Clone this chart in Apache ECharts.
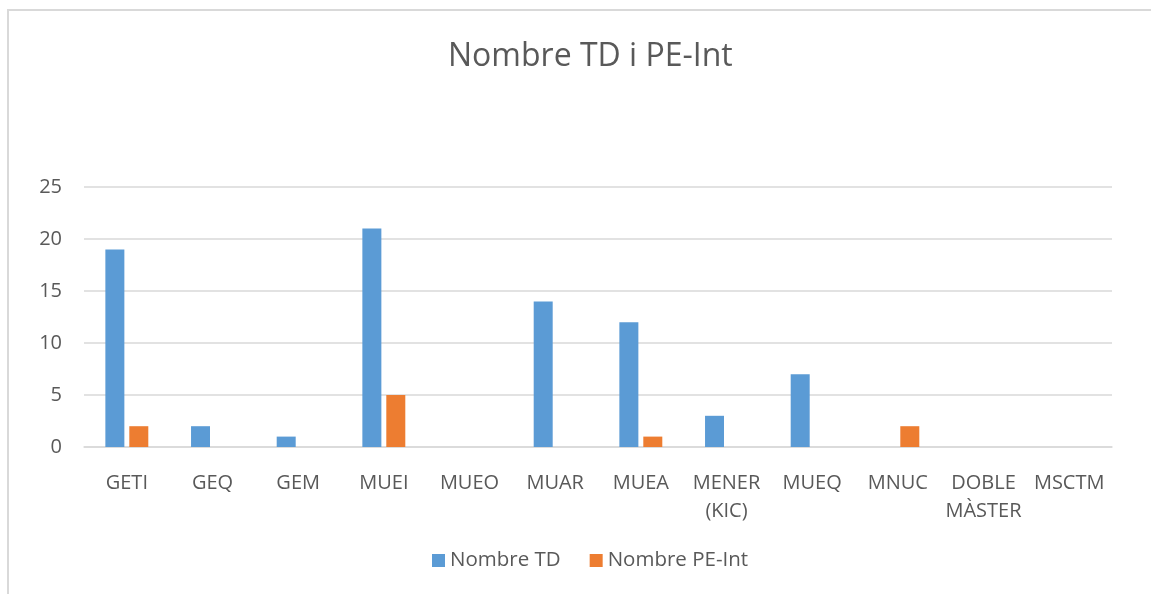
<!DOCTYPE html>
<html>
<head>
<meta charset="utf-8">
<script src="https://cdn.jsdelivr.net/npm/echarts@6/dist/echarts.min.js"></script>
<style>
  html, body { margin: 0; padding: 0; background: #fff; }
  #chart { width: 1151px; height: 594px; }
</style>
</head>
<body>
<div id="chart"></div>
<script>
const categories = ['GETI', 'GEQ', 'GEM', 'MUEI', 'MUEO', 'MUAR', 'MUEA', 'MENER\n(KIC)', 'MUEQ', 'MNUC', 'DOBLE\nMÀSTER', 'MSCTM'];
const nombreTD = [19, 2, 1, 21, 0, 14, 12, 3, 7, 0, 0, 0];
const nombrePEInt = [2, 0, 0, 5, 0, 0, 1, 0, 0, 2, 0, 0];

const FONT = '"Open Sans", "Noto Sans", sans-serif';
const TEXT = '#595959';

const chart = echarts.init(document.getElementById('chart'), null, { renderer: 'canvas' });

chart.setOption({
  backgroundColor: '#fff',
  animation: false,
  textStyle: { fontFamily: FONT, color: TEXT },
  graphic: [{
    type: 'rect',
    shape: { x: 8, y: 10, width: 1200, height: 700 },
    style: { fill: 'none', stroke: '#d9d9d9', lineWidth: 2 },
    silent: true
  }],
  title: {
    text: 'Nombre TD i PE-Int',
    left: 443,
    top: 36,
    textStyle: { fontFamily: FONT, fontSize: 32, fontWeight: 'normal', color: TEXT }
  },
  legend: {
    bottom: 18,
    left: 427,
    itemWidth: 13,
    itemHeight: 13,
    itemGap: 29,
    icon: 'rect',
    textStyle: { fontFamily: FONT, fontSize: 20.5, color: TEXT }
  },
  grid: { left: 84, right: 39, top: 187, bottom: 147 },
  xAxis: {
    type: 'category',
    data: categories,
    axisTick: { show: false },
    axisLine: { lineStyle: { color: '#d9d9d9', width: 1.5 } },
    axisLabel: { color: TEXT, fontSize: 20, margin: 22, lineHeight: 28, interval: 0, fontFamily: FONT }
  },
  yAxis: {
    type: 'value',
    min: 0,
    max: 25,
    interval: 5,
    axisLine: { show: false },
    axisTick: { show: false },
    axisLabel: { color: TEXT, fontSize: 20, margin: 22, fontFamily: FONT },
    splitLine: { lineStyle: { color: '#d9d9d9', width: 1.5 } }
  },
  series: [
    {
      name: 'Nombre TD',
      type: 'bar',
      data: nombreTD,
      barWidth: 19,
      barGap: '26%',
      itemStyle: { color: '#5b9bd5' }
    },
    {
      name: 'Nombre PE-Int',
      type: 'bar',
      data: nombrePEInt,
      barWidth: 19,
      itemStyle: { color: '#ed7d31' }
    }
  ]
});
</script>
</body>
</html>
